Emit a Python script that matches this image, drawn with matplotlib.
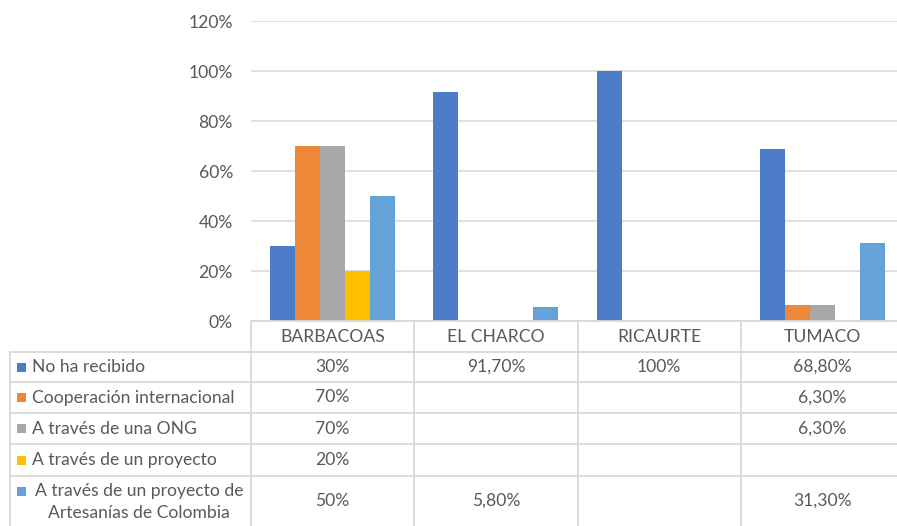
import numpy as np
import matplotlib
matplotlib.use("Agg")
import matplotlib.pyplot as plt
from matplotlib.lines import Line2D

plt.rcParams['font.family'] = ['Lato', 'DejaVu Sans']

categories = ["BARBACOAS", "EL CHARCO", "RICAURTE", "TUMACO"]
series_names = ["No ha recibido", "Cooperación internacional", "A través de una ONG",
                "A través de un proyecto", "A través de un proyecto de\nArtesanías de Colombia"]
no_ha_recibido = [30.0, 91.7, 100.0, 68.8]
cooperacion = [70.0, None, None, 6.3]
ong = [70.0, None, None, 6.3]
proyecto = [20.0, None, None, None]
artesanias = [50.0, 5.8, None, 31.3]
table_labels = [
    ["30%", "91,70%", "100%", "68,80%"],
    ["70%", "", "", "6,30%"],
    ["70%", "", "", "6,30%"],
    ["20%", "", "", ""],
    ["50%", "5,80%", "", "31,30%"],
]
yticks = [0, 20, 40, 60, 80, 100, 120]
ytick_labels = ["0%", "20%", "40%", "60%", "80%", "100%", "120%"]

series = [no_ha_recibido, cooperacion, ong, proyecto, artesanias]
colors = ["#4D7CC9", "#EF8739", "#A8A8A8", "#FFC000", "#64A2D8"]
text_c = "#595959"
grid_c = "#D9D9D9"

W, H = 897, 526
fig = plt.figure(figsize=(W / 100, H / 100), dpi=100)

x0, x1 = 251, 904
y0, y1 = 321, 21

def fx(px):
    return px / W

def fy(py):
    return 1 - py / H

ax = fig.add_axes([fx(x0), fy(y0), fx(x1) - fx(x0), fy(y1) - fy(y0)])
n = len(categories)
ax.set_xlim(0, n)
ax.set_ylim(0, 120)
bw = 1 / (5 + 1.52)
for i, (vals, c) in enumerate(zip(series, colors)):
    xs = np.arange(n) + 0.5 + (i - 2) * bw
    h = [v if v is not None else 0 for v in vals]
    ax.bar(xs, h, width=bw, color=c, zorder=3, linewidth=0)
ax.set_yticks(yticks)
ax.set_yticklabels(ytick_labels)
fs = 12.6
ax.tick_params(axis='y', length=0, pad=13, labelsize=fs, labelcolor=text_c)
ax.set_xticks([])
ax.grid(axis='y', color=grid_c, linewidth=1.2, zorder=0)
for s in ax.spines.values():
    s.set_visible(False)

tab = fig.add_axes([0, 0, 1, 1], zorder=5)
tab.set_xlim(0, W)
tab.set_ylim(H, 0)
tab.axis('off')
tab.patch.set_alpha(0)

lw = 1.3
col_edges = [x0 + (x1 - x0) * k / n for k in range(n + 1)]
row_edges = [352, 382, 413, 444, 476, 530]
tab.add_line(Line2D([x0, x1], [y0, y0], color=grid_c, lw=lw))
for ye in row_edges[:-1]:
    tab.add_line(Line2D([10, x1], [ye, ye], color=grid_c, lw=lw))
tab.add_line(Line2D([10, 10], [row_edges[0], H], color=grid_c, lw=lw))
for xe in col_edges:
    tab.add_line(Line2D([xe, xe], [y0, H], color=grid_c, lw=lw))

centers = [(col_edges[k] + col_edges[k + 1]) / 2 for k in range(n)]
for k, cat in enumerate(categories):
    tab.text(centers[k], (y0 + row_edges[0]) / 2, cat, ha='center', va='center',
             fontsize=fs, color=text_c)

for r, name in enumerate(series_names):
    yc = (row_edges[r] + min(row_edges[r + 1], H)) / 2
    if r < 4:
        tab.add_patch(plt.Rectangle((17, yc - 4.5), 9, 9, color=colors[r], lw=0))
        tab.text(32, yc, name, ha='left', va='center', fontsize=fs, color=text_c)
    else:
        tab.add_patch(plt.Rectangle((17, 487), 9, 9, color=colors[r], lw=0))
        tab.text(139, 502, name, ha='center', va='center', fontsize=fs, color=text_c,
                 multialignment='center', linespacing=1.45)
    for k in range(n):
        tab.text(centers[k], yc, table_labels[r][k], ha='center', va='center',
                 fontsize=fs, color=text_c)

fig.savefig("out.png", dpi=100)
